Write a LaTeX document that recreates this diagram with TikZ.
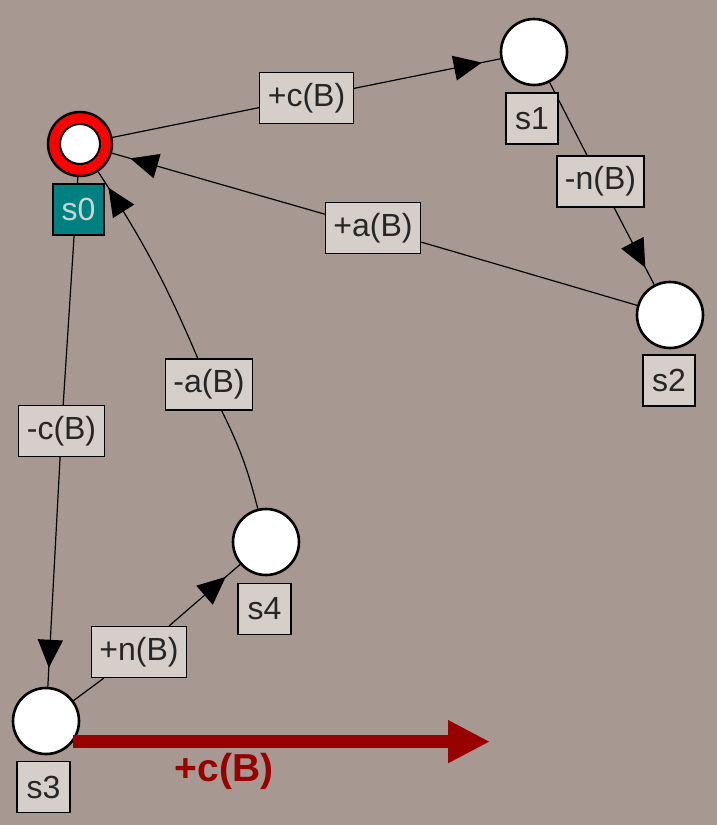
\documentclass[tikz,border=0pt]{standalone}
\usepackage{fontspec}
\setmainfont{Liberation Sans}
\usetikzlibrary{arrows.meta,decorations.markings}
\definecolor{canvasc}{RGB}{167,153,146}
\definecolor{boxc}{RGB}{214,206,201}
\definecolor{tealc}{RGB}{0,128,128}
\definecolor{tealtext}{RGB}{200,214,208}
\definecolor{firered}{RGB}{153,0,0}
\pgfdeclarelayer{bg}
\pgfdeclarelayer{edges}
\pgfsetlayers{bg,edges,main}
\begin{document}
\begin{tikzpicture}[x=1pt,y=-1pt,
  state/.style={circle, draw=black, line width=2.6pt, fill=white,
    minimum size=66pt, inner sep=0pt},
  tag/.style={draw=black, line width=1.3pt, fill=boxc, minimum height=51pt,
    inner xsep=8pt, inner ysep=0pt, text=black!85,
    font=\fontsize{32}{36}\selectfont},
  initag/.style={tag, fill=tealc, text=tealtext},
  trans/.style={draw=black, line width=1.2pt, postaction={decorate},
    decoration={markings,
      mark=at position -19pt with {\arrow{Triangle[length=28pt,width=25pt]}}}},
  plain/.style={draw=black, line width=1.2pt},
  fired/.style={draw=firered, line width=13pt,
    -{Triangle[length=42pt,width=40pt]}}
]
\begin{pgfonlayer}{bg}
  \fill[canvasc] (0,0) rectangle (717,825);
\end{pgfonlayer}
\useasboundingbox (0,0) rectangle (717,825);

% states
\node[state, fill=red, line width=2.4pt, minimum size=64pt] (s0) at (80,144) {};
\node[circle, draw=black, line width=2pt, fill=white, minimum size=40pt,
      inner sep=0pt] (s0in) at (s0.center) {};
\node[state] (s1) at (534,52) {};
\node[state] (s2) at (670,315) {};
\node[state] (s3) at (46,721) {};
\node[state] (s4) at (266,542) {};

% state names
\node[initag, minimum width=51pt] (n0) at (78.5,209.5) {s0};
\node[tag, minimum width=52pt] (n1) at (532,118.5) {s1};
\node[tag, minimum width=52pt] (n2) at (669,380.5) {s2};
\node[tag, minimum width=53pt] (n3) at (43.5,787) {s3};
\node[tag, minimum width=53pt] (n4) at (264.5,609) {s4};

% transition labels
\node[tag] (t1) at (306.5,98) {+c(B)};
\node[tag] (t2) at (600.5,181.5) {-n(B)};
\node[tag] (t3) at (373,228) {+a(B)};
\node[tag] (t4) at (61.5,431) {-c(B)};
\node[tag] (t5) at (139,652) {+n(B)};
\node[tag] (t6) at (209,384.5) {-a(B)};

% transitions
\begin{pgfonlayer}{edges}
  \draw[plain] (s0) -- (t1);
  \draw[trans] (t1) -- (s1);
  \draw[plain] (s1) -- (t2);
  \draw[trans] (t2) -- (s2);
  \draw[plain] (s2) -- (t3);
  \draw[trans] (t3) -- (s0);
  \draw[plain] (s0) -- (t4);
  \draw[trans] (t4) -- (s3);
  \draw[plain] (s3) -- (t5);
  \draw[trans] (t5) -- (s4);
  \draw[plain] (s4) to[bend right=6] (t6);
  \draw[trans] (t6) to[bend right=5] (s0);
\end{pgfonlayer}

% fired transition
\coordinate (fend) at (490,742);
\draw[fired] (s3.-37) -- (fend |- s3.-37);
\node[text=firered, font=\fontsize{39}{44}\selectfont\bfseries] (flabel)
  at (224,771) {+c(B)};
\end{tikzpicture}
\end{document}
